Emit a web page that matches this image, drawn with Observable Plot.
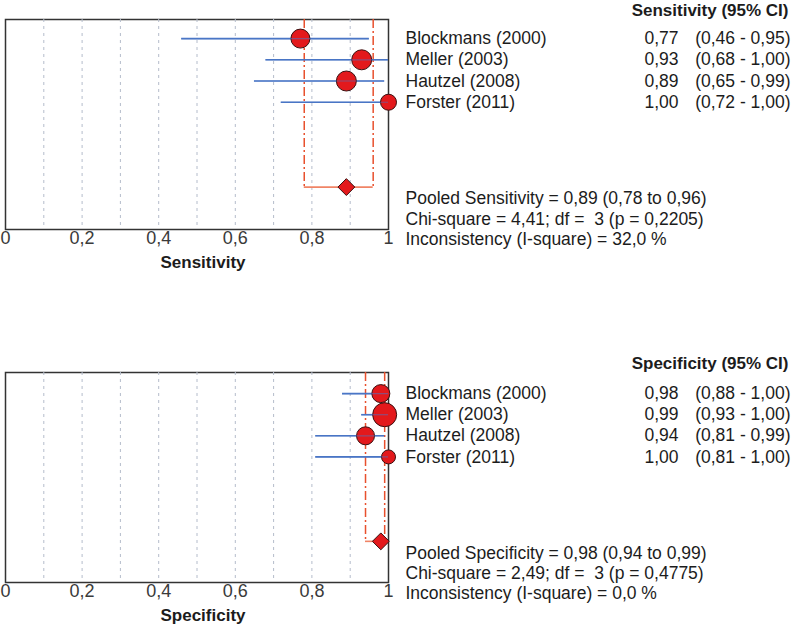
<!DOCTYPE html>
<html>
<head>
<meta charset="utf-8">
<script src="https://cdn.jsdelivr.net/npm/d3@7"></script>
<script src="https://cdn.jsdelivr.net/npm/@observablehq/plot@0.6"></script>
<style>
  html, body { margin: 0; padding: 0; background: #fff; }
  #chart svg { display: block; }
  #chart svg text { white-space: pre; }
</style>
</head>
<body>
<div id="chart"></div>
<script>
// ---- data ----
const studies = ["Blockmans (2000)", "Meller (2003)", "Hautzel (2008)", "Forster (2011)"];

const sensEst = [0.77, 0.93, 0.89, 1.00];
const sensLo  = [0.46, 0.68, 0.65, 0.72];
const sensHi  = [0.95, 1.00, 0.99, 1.00];
const sensWeight = [9.5, 10, 10, 8];          // relative study weight (marker size)
const sensPooled = [0.89, 0.78, 0.96];        // estimate, lower, upper
const sensStats = [
  "Pooled Sensitivity = 0,89 (0,78 to 0,96)",
  "Chi-square = 4,41; df =  3 (p = 0,2205)",
  "Inconsistency (I-square) = 32,0 %"
];

const specEst = [0.98, 0.99, 0.94, 1.00];
const specLo  = [0.88, 0.93, 0.81, 0.81];
const specHi  = [1.00, 1.00, 0.99, 1.00];
const specWeight = [9, 12, 9, 7];
const specPooled = [0.98, 0.94, 0.99];
const specStats = [
  "Pooled Specificity = 0,98 (0,94 to 0,99)",
  "Chi-square = 2,49; df =  3 (p = 0,4775)",
  "Inconsistency (I-square) = 0,0 %"
];

const xTicks = [0, 0.2, 0.4, 0.6, 0.8, 1];
const xGrid = [0.1, 0.2, 0.3, 0.4, 0.5, 0.6, 0.7, 0.8, 0.9];

// ---- helpers ----
const fmt = v => v.toFixed(2).replace(".", ",");
const tickFmt = v => (v === 0 ? "0" : v === 1 ? "1" : String(v).replace(".", ","));
const FONT = "Liberation Sans, Arial, sans-serif";
const TXT = "#1c1c1c";
const FS = 17.5;
const POOLED_ROW = 8;

function panel({label, header, est, lo, hi, weight, pooled, stats, marginTop, marginBottom, yDomain}) {
  const rows = studies.map((s, i) => ({
    study: s, row: i + 1, est: est[i], lo: lo[i], hi: hi[i], w: weight[i],
    val: fmt(est[i]), ci: `(${fmt(lo[i])} - ${fmt(hi[i])})`
  }));
  const pool = [{est: pooled[0], lo: pooled[1], hi: pooled[2], row: POOLED_ROW}];
  return Plot.plot({
    width: 800,
    height: 312,
    marginLeft: 5,
    marginRight: 412,
    marginTop,
    marginBottom,
    style: {fontFamily: FONT, background: "white", overflow: "visible"},
    x: {domain: [0, 1], axis: null},
    y: {domain: yDomain, reverse: true, axis: null},
    r: {type: "linear", domain: [0, 12], range: [0, 12]},
    marks: [
      Plot.frame({stroke: "#333", strokeWidth: 1.5}),
      Plot.ruleX(xGrid, {stroke: "#b4bccb", strokeWidth: 1, strokeDasharray: "3 4"}),
      Plot.axisX(xTicks, {tickSize: 0, tickPadding: 2, tickFormat: tickFmt, fontSize: 18, fill: "#3a3a3a", label: null}),
      Plot.text([label], {frameAnchor: "bottom", lineAnchor: "middle", dx: 6, dy: 33, fontSize: 17, fontWeight: "bold", fill: TXT}),
      // pooled CI bracket
      Plot.ruleX(pool, {x: "lo", y1: yDomain[0], y2: "row", stroke: "#e8502d", strokeWidth: 1.5, strokeDasharray: "9 3 2 3"}),
      Plot.ruleX(pool, {x: "hi", y1: yDomain[0], y2: "row", stroke: "#e8502d", strokeWidth: 1.5, strokeDasharray: "9 3 2 3"}),
      Plot.ruleY(pool, {y: "row", x1: "lo", x2: "hi", stroke: "#f08466", strokeWidth: 1.6}),
      Plot.dot(pool, {x: "est", y: "row", symbol: "diamond2", r: 7.6, fill: "#e3191c", stroke: "#3a1010", strokeWidth: 1}),
      // study CIs & point estimates
      Plot.ruleY(rows, {y: "row", x1: "lo", x2: "hi", stroke: "#4a76c6", strokeWidth: 1.6}),
      Plot.dot(rows, {x: "est", y: "row", r: "w", fill: "#e3191c", stroke: "#3a1010", strokeWidth: 1}),
      Plot.ruleY(rows, {y: "row", x1: "lo", x2: "hi", stroke: "#4a76c6", strokeWidth: 1.2, strokeOpacity: 0.55}),
      // table on the right
      Plot.text([header], {frameAnchor: "top-right", lineAnchor: "middle", dx: 400, dy: -9, textAnchor: "end", fontSize: 17, fontWeight: "bold", fill: TXT}),
      Plot.text(rows, {x: () => 1, y: "row", text: "study", dx: 17, textAnchor: "start", fontSize: FS, fill: TXT}),
      Plot.text(rows, {x: () => 1, y: "row", text: "val", dx: 290, textAnchor: "end", fontSize: FS, fill: TXT}),
      Plot.text(rows, {x: () => 1, y: "row", text: "ci", dx: 402, textAnchor: "end", fontSize: FS, fill: TXT}),
      Plot.text(pool, {x: () => 1, y: "row", text: () => stats.join("\n"), dx: 17, dy: 31, textAnchor: "start", lineAnchor: "middle", lineHeight: 1.15, fontSize: FS, fill: TXT})
    ]
  });
}

const chart = document.getElementById("chart");
chart.append(panel({
  label: "Sensitivity", header: "Sensitivity (95% CI)",
  est: sensEst, lo: sensLo, hi: sensHi, weight: sensWeight, pooled: sensPooled, stats: sensStats,
  marginTop: 19, marginBottom: 83, yDomain: [0.1, 10]
}));
chart.append(panel({
  label: "Specificity", header: "Specificity (95% CI)",
  est: specEst, lo: specLo, hi: specHi, weight: specWeight, pooled: specPooled, stats: specStats,
  marginTop: 60, marginBottom: 42, yDomain: [0.0, 9.95]
}));
</script>
</body>
</html>
